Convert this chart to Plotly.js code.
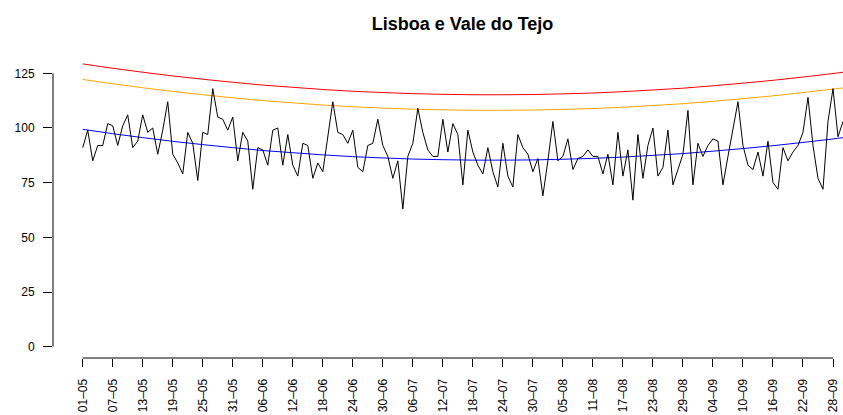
<!DOCTYPE html>
<html>
<head>
<meta charset="utf-8">
<script src="https://cdn.plot.ly/plotly-3.0.1.min.js"></script>
<style>html,body{margin:0;padding:0;background:#fff;}#chart{width:843px;height:415px;}</style>
</head>
<body>
<div id="chart"></div>
<script>
// Daily values, 01-05 .. 30-09 (153 days)
const observed = [
  91, 99, 85, 92, 92, 102, 101, 92, 101, 106,
  91, 94, 106, 98, 100, 88, 99, 112, 88, 84,
  79, 98, 93, 76, 98, 97, 118, 105, 104, 99,
  105, 85, 98, 94, 72, 91, 90, 83, 99, 100,
  83, 97, 83, 78, 93, 92, 77, 84, 80, 95,
  112, 98, 97, 93, 99, 82, 80, 92, 93, 104,
  92, 87, 77, 85, 63, 87, 93, 109, 98, 90,
  87, 87, 104, 89, 102, 97, 74, 99, 89, 83,
  79, 91, 80, 73, 93, 78, 73, 97, 91, 88,
  80, 86, 69, 85, 103, 85, 87, 95, 81, 86,
  87, 90, 87, 87, 79, 88, 74, 98, 78, 90,
  67, 97, 77, 92, 100, 78, 82, 99, 74, 81,
  88, 108, 74, 93, 87, 92, 95, 94, 74, 87,
  99, 112, 92, 83, 81, 89, 78, 94, 75, 72,
  91, 85, 89, 92, 98, 114, 92, 77, 72, 103,
  118, 96, 103
];

// Tick labels (every 6 days)
const tickLabels = ["01–05","07–05","13–05","19–05","25–05","31–05","06–06","12–06","18–06","24–06",
  "30–06","06–07","12–07","18–07","24–07","30–07","05–08","11–08","17–08","23–08",
  "29–08","04–09","10–09","16–09","22–09","28–09"];
const tickDays = [0,6,12,18,24,30,36,42,48,54,60,66,72,78,84,90,96,102,108,114,120,126,132,138,144,150];

// Smooth reference curves read at sample days
const curveDays = [0,6,12,18,24,30,36,42,48,54,60,66,72,78,84,90,96,102,108,114,120,126,132,138,144,150,152];
const redCurve = [129.3,127.3,125.5,123.8,122.3,120.9,119.6,118.6,117.6,116.8,116.2,115.7,115.4,115.2,115.2,115.3,115.6,116.0,116.6,117.4,118.2,119.3,120.5,121.8,123.3,124.9,125.5];
const orangeCurve = [122.2,120.2,118.4,116.7,115.2,113.8,112.5,111.5,110.5,109.7,109.1,108.6,108.3,108.1,108.1,108.2,108.5,108.9,109.5,110.3,111.1,112.2,113.4,114.7,116.2,117.8,118.3];
const blueCurve = [99.4,97.4,95.6,93.9,92.4,91.0,89.7,88.7,87.7,86.9,86.3,85.8,85.5,85.3,85.3,85.4,85.7,86.1,86.7,87.5,88.3,89.4,90.6,91.9,93.4,95.0,95.6];

const days = observed.map((_, i) => i);

const W = 843, H = 415;
const mL = 53, mR = 0, mT = 50, mB = 57;
const xr = [-5.94, 152.0];
const yr = [-5.17, 135.66];

const font = "Liberation Sans, Arial, Helvetica, sans-serif";

const traces = [
  {x: curveDays, y: redCurve, type: 'scatter', mode: 'lines', line: {color: '#ff0000', width: 1, shape: 'spline'}, hoverinfo: 'skip'},
  {x: curveDays, y: orangeCurve, type: 'scatter', mode: 'lines', line: {color: '#ffa500', width: 1, shape: 'spline'}, hoverinfo: 'skip'},
  {x: curveDays, y: blueCurve, type: 'scatter', mode: 'lines', line: {color: '#0000ff', width: 1, shape: 'spline'}, hoverinfo: 'skip'},
  {x: days, y: observed, type: 'scatter', mode: 'lines', line: {color: '#000000', width: 1}}
];

const px = v => (v - xr[0]) / (xr[1] - xr[0]);
const py = v => (v - yr[0]) / (yr[1] - yr[0]);

const layout = {
  width: W, height: H,
  margin: {l: mL, r: mR, t: mT, b: mB, pad: 0},
  paper_bgcolor: '#ffffff', plot_bgcolor: '#ffffff',
  showlegend: false,
  font: {family: font, size: 12, color: '#000'},
  title: {text: '<b>Lisboa e Vale do Tejo</b>', font: {family: font, size: 18, color: '#000'},
          xref: 'container', x: 462.5 / W, xanchor: 'center', yref: 'container', y: 1 - 24 / H, yanchor: 'middle'},
  xaxis: {range: xr, showgrid: false, zeroline: false, showline: false,
          tickmode: 'array', tickvals: tickDays, ticktext: tickLabels, tickangle: -90,
          ticks: 'outside', ticklen: 8, tickwidth: 1, tickcolor: '#000', ticklabelstandoff: 7,
          tickfont: {family: font, size: 12, color: '#000'}},
  yaxis: {range: yr, showgrid: false, zeroline: false, showline: false,
          tickmode: 'array', tickvals: [0, 25, 50, 75, 100, 125],
          ticks: 'outside', ticklen: 9, tickwidth: 1, tickcolor: '#000', ticklabelstandoff: 6,
          tickfont: {family: font, size: 12, color: '#000'}},
  shapes: [
    {type: 'line', xref: 'paper', yref: 'paper', x0: 0, x1: 0, y0: py(0), y1: py(125), line: {color: '#000', width: 1}},
    {type: 'line', xref: 'paper', yref: 'paper', x0: px(0), x1: px(150), y0: 0, y1: 0, line: {color: '#000', width: 1}}
  ]
};

Plotly.newPlot('chart', traces, layout, {displayModeBar: false, staticPlot: true});
</script>
</body>
</html>
